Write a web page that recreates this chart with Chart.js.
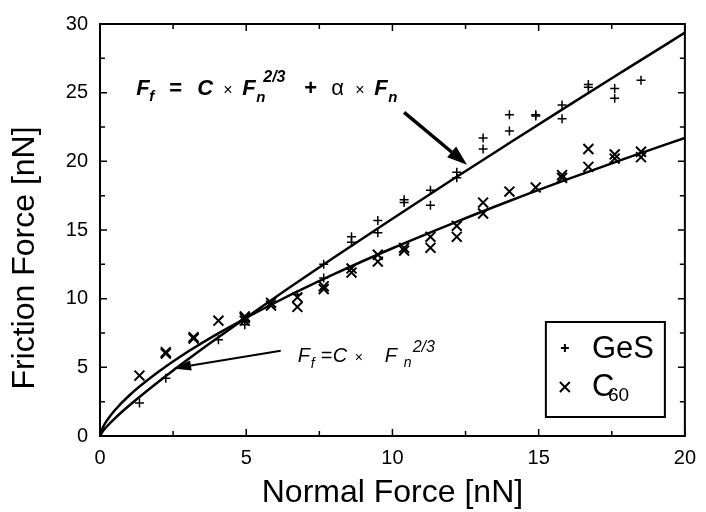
<!DOCTYPE html>
<html>
<head>
<meta charset="utf-8">
<script src="https://cdn.jsdelivr.net/npm/chart.js@4.4.0/dist/chart.umd.min.js"></script>
<style>
  html, body { margin: 0; padding: 0; background: #fff; }
  #wrap { width: 706px; height: 512px; }
</style>
</head>
<body>
<div id="wrap"><canvas id="chart"></canvas></div>
<script>
// measured friction data, normal force / friction force in nN
const gesN = [1.35, 2.25, 4.05, 4.95, 4.95, 6.75, 7.65, 7.65, 8.6, 8.6, 9.5, 9.5,
  10.4, 10.4, 11.3, 11.3, 12.2, 12.2, 13.1, 13.1, 14.0, 14.0, 14.9, 14.9,
  15.8, 15.8, 16.7, 16.7, 17.6, 17.6, 18.5];
const gesF = [2.4, 4.2, 7.0, 8.1, 8.4, 10.3, 12.5, 11.5, 14.5, 14.1, 15.7, 14.8,
  17.2, 17.0, 17.9, 16.8, 19.2, 18.8, 21.7, 20.9, 23.4, 22.2, 23.4, 23.3,
  24.1, 23.1, 25.6, 25.4, 25.3, 24.6, 25.9];

const c60N = [1.35, 2.25, 2.25, 3.2, 3.2, 4.05, 4.95, 4.95, 4.95, 5.85, 5.85,
  6.75, 6.75, 7.65, 7.65, 8.6, 8.6, 9.5, 9.5, 10.4, 10.4, 11.3, 11.3,
  12.2, 12.2, 13.1, 13.1, 14.0, 14.9, 15.8, 15.8, 16.7, 16.7, 17.6, 17.6, 18.5, 18.5];
const c60F = [4.4, 6.1, 6.0, 7.2, 7.1, 8.4, 8.6, 8.7, 8.4, 9.5, 9.7,
  9.4, 10.1, 10.7, 10.9, 12.2, 11.9, 13.2, 12.7, 13.7, 13.5, 14.5, 13.7,
  15.3, 14.5, 17.0, 16.2, 17.8, 18.1, 19.0, 18.8, 20.9, 19.6, 20.5, 20.2, 20.7, 20.3];

// fitted curves
const fitN   = [0, 0.1, 0.25, 0.5, 1, 2, 3, 4, 6, 8, 10, 12, 14, 16, 18, 20];
const gesFit = [0, 0.36, 0.73, 1.27, 2.22, 3.95, 5.57, 7.12, 10.11, 13.0, 15.82, 18.6, 21.33, 24.04, 26.71, 29.37];
const c60Fit = [0, 0.63, 1.17, 1.86, 2.95, 4.67, 6.13, 7.42, 9.72, 11.78, 13.67, 15.43, 17.11, 18.70, 20.23, 21.70];

const seriesNames = ['GeS', 'C60'];

const FONT = "'Liberation Sans', Arial, Helvetica, sans-serif";

const pts = (xs, ys) => xs.map((x, i) => ({ x, y: ys[i] }));

function arrow(ctx, x1, y1, x2, y2, lw, head, half) {
  const a = Math.atan2(y2 - y1, x2 - x1);
  const bx = x2 - Math.cos(a) * head, by = y2 - Math.sin(a) * head;
  ctx.save();
  ctx.strokeStyle = '#000';
  ctx.fillStyle = '#000';
  ctx.lineWidth = lw;
  ctx.beginPath();
  ctx.moveTo(x1, y1);
  ctx.lineTo(bx, by);
  ctx.stroke();
  ctx.beginPath();
  ctx.moveTo(x2, y2);
  ctx.lineTo(bx + Math.sin(a) * half, by - Math.cos(a) * half);
  ctx.lineTo(bx - Math.sin(a) * half, by + Math.cos(a) * half);
  ctx.closePath();
  ctx.fill();
  ctx.restore();
}

// pieces: [text, font, dx, dy]
function equation(ctx, x0, y0, pieces) {
  ctx.save();
  ctx.fillStyle = '#000';
  ctx.textBaseline = 'alphabetic';
  ctx.textAlign = 'left';
  pieces.forEach(([t, f, dx, dy]) => {
    ctx.font = f;
    ctx.fillText(t, x0 + dx, y0 + dy);
  });
  ctx.restore();
}

const decorations = {
  id: 'decorations',
  afterDatasetsDraw(chart) {
    const { ctx, chartArea: ca, scales: { x, y } } = chart;
    ctx.save();
    ctx.strokeStyle = '#000';

    // inward ticks on all four sides
    ctx.lineWidth = 1.5;
    for (let v = 0; v <= 20; v += 2.5) {
      const px = x.getPixelForValue(v);
      const len = v % 5 === 0 ? 7 : 5;
      ctx.beginPath();
      ctx.moveTo(px, ca.bottom); ctx.lineTo(px, ca.bottom - len);
      ctx.moveTo(px, ca.top); ctx.lineTo(px, ca.top + len);
      ctx.stroke();
    }
    for (let v = 0; v <= 30; v += 2.5) {
      const py = y.getPixelForValue(v);
      const len = v % 5 === 0 ? 7 : 5;
      ctx.beginPath();
      ctx.moveTo(ca.left, py); ctx.lineTo(ca.left + len, py);
      ctx.moveTo(ca.right, py); ctx.lineTo(ca.right - len, py);
      ctx.stroke();
    }

    // frame
    ctx.lineWidth = 2;
    ctx.strokeRect(ca.left, ca.top, ca.right - ca.left, ca.bottom - ca.top);

    // y axis title
    ctx.save();
    ctx.translate(25, 258);
    ctx.rotate(-Math.PI / 2);
    ctx.font = '32px ' + FONT;
    ctx.fillStyle = '#000';
    ctx.textAlign = 'center';
    ctx.textBaseline = 'middle';
    ctx.fillText('Friction Force [nN]', 0, 0);
    ctx.restore();

    // equations + arrows
    const big = 'italic bold 22px ' + FONT;
    const sub = 'italic bold 15px ' + FONT;
    const sup = 'italic bold 16px ' + FONT;
    const op = 'bold 22px ' + FONT;
    const tim = '16px ' + FONT;
    equation(ctx, x.getPixelForValue(1.24), y.getPixelForValue(24.8), [
      ['F', big, 0, 0], ['f', sub, 13, 6], ['=', op, 33, 0], ['C', big, 61, 0],
      ['\u00d7', tim, 87, 0], ['F', big, 106, 0], ['n', sub, 120, 7], ['2/3', sup, 127, -13],
      ['+', op, 168, 0], ['\u03b1', '22px ' + FONT, 195, 0], ['\u00d7', tim, 219, 0],
      ['F', big, 238, 0], ['n', sub, 252, 7]
    ]);
    arrow(ctx, x.getPixelForValue(10.4), y.getPixelForValue(23.56),
      x.getPixelForValue(12.55), y.getPixelForValue(19.75), 3.5, 20, 7);

    const big2 = 'italic 20px ' + FONT;
    const sub2 = 'italic 14px ' + FONT;
    const sup2 = 'italic 16px ' + FONT;
    equation(ctx, x.getPixelForValue(6.76), y.getPixelForValue(5.4), [
      ['F', big2, 0, 0], ['f', sub2, 13, 6], ['=', '20px ' + FONT, 23, 0], ['C', big2, 35, 0],
      ['\u00d7', '14px ' + FONT, 57, 0], ['F', big2, 87, 0], ['n', sub2, 106, 5], ['2/3', sup2, 115, -10]
    ]);
    arrow(ctx, x.getPixelForValue(6.18), y.getPixelForValue(6.2),
      x.getPixelForValue(2.5), y.getPixelForValue(4.92), 2, 18, 5);

    // legend box
    const lx = ca.right - 139, ly = ca.bottom - 114, lw = 119, lh = 95;
    ctx.fillStyle = '#fff';
    ctx.fillRect(lx, ly, lw, lh);
    ctx.lineWidth = 2;
    ctx.strokeRect(lx, ly, lw, lh);
    Chart.helpers.drawPoint(ctx, { pointStyle: 'cross', radius: 4, borderWidth: 1.2 }, lx + 19, ly + 26);
    Chart.helpers.drawPoint(ctx, { pointStyle: 'crossRot', radius: 7, borderWidth: 1.5 }, lx + 19, ly + 65);
    ctx.fillStyle = '#000';
    ctx.textAlign = 'left';
    ctx.textBaseline = 'alphabetic';
    ctx.font = '31px ' + FONT;
    ctx.fillText(seriesNames[0], lx + 46, ly + 36);
    ctx.fillText('C', lx + 46, ly + 74);
    ctx.font = '19px ' + FONT;
    ctx.fillText('60', lx + 62, ly + 79);
    ctx.restore();
  }
};

new Chart(document.getElementById('chart'), {
  type: 'scatter',
  data: {
    datasets: [
      {
        label: 'GeS fit',
        data: pts(fitN, gesFit),
        showLine: true,
        borderColor: '#000',
        borderWidth: 2.5,
        pointRadius: 0,
        cubicInterpolationMode: 'monotone',
      },
      {
        label: 'C60 fit',
        data: pts(fitN, c60Fit),
        showLine: true,
        borderColor: '#000',
        borderWidth: 2.5,
        pointRadius: 0,
        cubicInterpolationMode: 'monotone',
      },
      {
        label: seriesNames[0],
        data: pts(gesN, gesF),
        pointStyle: 'cross',
        pointRadius: 4.5,
        borderColor: '#000',
        pointBorderWidth: 1.5,
      },
      {
        label: seriesNames[1],
        data: pts(c60N, c60F),
        pointStyle: 'crossRot',
        pointRadius: 7,
        borderColor: '#000',
        pointBorderWidth: 2,
      },
    ],
  },
  options: {
    responsive: true,
    maintainAspectRatio: false,
    animation: false,
    layout: { padding: { left: 0, right: 13, top: 24, bottom: 0 } },
    plugins: {
      legend: { display: false },
      tooltip: { enabled: false },
    },
    scales: {
      x: {
        type: 'linear',
        min: 0,
        max: 20,
        grid: { display: false, drawTicks: false },
        border: { display: false },
        ticks: { stepSize: 5, padding: 10, color: '#000', font: { family: FONT, size: 20 } },
        title: { display: true, text: 'Normal Force [nN]', color: '#000', padding: 0,
          font: { family: FONT, size: 32 } },
        afterFit: s => { s.height = 76; },
      },
      y: {
        min: 0,
        max: 30,
        grid: { display: false, drawTicks: false },
        border: { display: false },
        ticks: { stepSize: 5, padding: 12, color: '#000', font: { family: FONT, size: 20 } },
        afterFit: s => { s.width = 100; },
      },
    },
  },
  plugins: [decorations],
});
</script>
</body>
</html>
